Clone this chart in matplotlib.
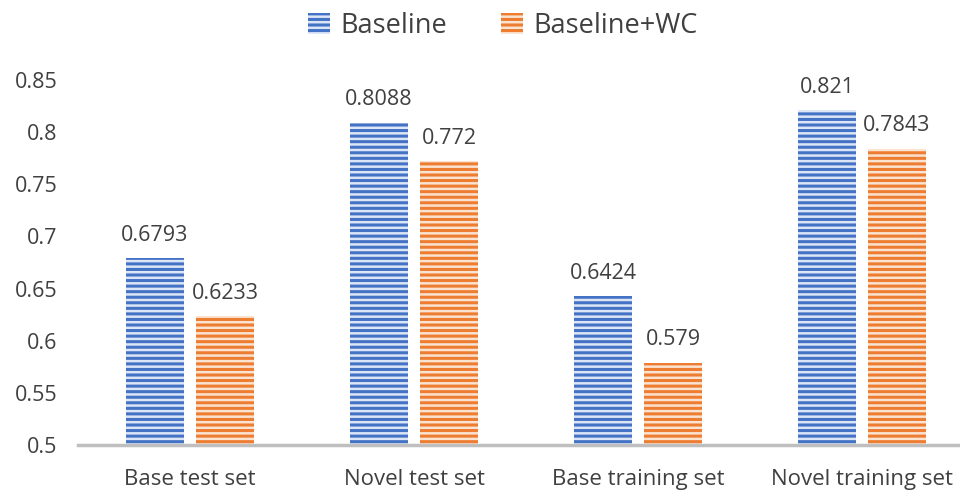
import matplotlib
matplotlib.use("Agg")
import matplotlib.pyplot as plt
import numpy as np

categories = ["Base test set", "Novel test set", "Base training set", "Novel training set"]
baseline = [0.6793, 0.8088, 0.6424, 0.821]
baseline_wc = [0.6233, 0.772, 0.579, 0.7843]
series_names = ["Baseline", "Baseline+WC"]
yticks = [0.5, 0.55, 0.6, 0.65, 0.7, 0.75, 0.8, 0.85]

plt.rcParams["font.family"] = ["Open Sans", "DejaVu Sans"]
plt.rcParams["hatch.linewidth"] = 2.2
txt = "#404040"

fig = plt.figure(figsize=(9.6, 4.97), dpi=100)
ax = fig.add_axes([78 / 960, 1 - 445 / 497, 896 / 960, 365 / 497])

x = np.arange(len(categories))
w = 0.255
off = 0.156
b1 = ax.bar(x - off, baseline, w, bottom=0, color="#dce6f7", edgecolor="#4472C4",
            hatch="---", linewidth=0, label=series_names[0])
b2 = ax.bar(x + off, baseline_wc, w, bottom=0, color="#fbe3d2", edgecolor="#ED7D31",
            hatch="---", linewidth=0, label=series_names[1])

for bars, vals in ((b1, baseline), (b2, baseline_wc)):
    for r, v in zip(bars, vals):
        ax.text(r.get_x() + r.get_width() / 2, v + 0.012, f"{v:g}", ha="center", va="bottom",
                fontsize=15.5, color=txt)

ax.set_xlim(-0.5, 3.5)
ax.set_ylim(0.5, 0.85)
ax.set_yticks(yticks)
ax.set_yticklabels([f"{t:g}" for t in yticks])
ax.set_xticks(x)
ax.set_xticklabels(categories)
ax.tick_params(axis="both", length=0, labelsize=15.5, colors=txt)
ax.tick_params(axis="x", pad=17, labelsize=16)
ax.tick_params(axis="y", pad=15)
for s in ("top", "right", "left"):
    ax.spines[s].set_visible(False)
ax.spines["bottom"].set_color("#bfbfbf")
ax.spines["bottom"].set_linewidth(2.5)
ax.spines["bottom"].set_zorder(5)

fig.legend(loc="upper center", bbox_to_anchor=(0.524, 1.025), ncol=2, frameon=False,
           fontsize=19.5, handlelength=0.8, handleheight=0.8, columnspacing=2.0,
           handletextpad=0.4, labelcolor=txt)

fig.savefig("out.png", dpi=100)
